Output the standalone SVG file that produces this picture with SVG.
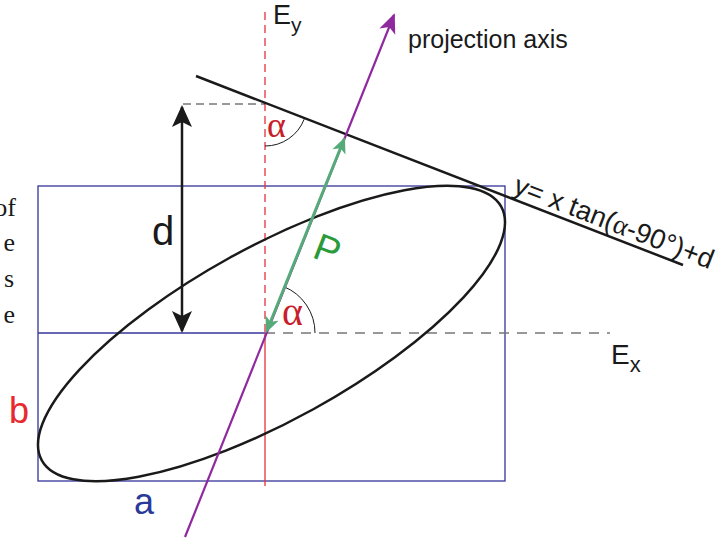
<svg xmlns="http://www.w3.org/2000/svg" width="725" height="543" viewBox="0 0 725 543">
<style>
.sans{font-family:"Liberation Sans",Arial,sans-serif}
.serif{font-family:"Liberation Serif","Times New Roman",serif}
.blk{stroke:#1a1a1a;fill:none}
.alpha{fill:#c8202a;font-family:"Liberation Serif","Times New Roman",serif}
</style>
<defs>
<marker id="ahBlack" viewBox="-24 -11 26 22" refX="-2" refY="0" markerWidth="26" markerHeight="22" markerUnits="userSpaceOnUse" orient="auto-start-reverse">
<path d="M0,0 L-22,-10 L-17,0 L-22,10 Z" fill="#1a1a1a"/>
</marker>
<marker id="ahGreen" viewBox="-18 -8 20 16" refX="-2" refY="0" markerWidth="20" markerHeight="16" markerUnits="userSpaceOnUse" orient="auto-start-reverse">
<path d="M0,0 L-16,-7 L-12,0 L-16,7 Z" fill="#55aa7a"/>
</marker>
<marker id="ahPurple" viewBox="-22 -9 24 18" refX="-2" refY="0" markerWidth="24" markerHeight="18" markerUnits="userSpaceOnUse" orient="auto">
<path d="M0,0 L-20,-8.5 L-15,0 L-20,8.5 Z" fill="#8e2a9e"/>
</marker>
</defs>

<g id="page-text" class="serif" font-size="26" fill="#1a1a1a" text-anchor="end">
<text x="16" y="216">of</text>
<text x="15" y="251">e</text>
<text x="14" y="287">s</text>
<text x="15" y="323">e</text>
</g>

<g id="box">
<rect x="38" y="186" width="467" height="295" fill="none" stroke="#34349a" stroke-width="1.3"/>
<line x1="38" y1="333" x2="265" y2="333" stroke="#34349a" stroke-width="1.3"/>
</g>

<g id="axes">
<line x1="265" y1="12" x2="265" y2="333" stroke="#e8303c" stroke-width="1.3" stroke-dasharray="8,5"/>
<line x1="265" y1="333" x2="265" y2="486" stroke="#e8303c" stroke-width="1.3"/>
<line x1="265" y1="333" x2="610" y2="333" stroke="#777" stroke-width="1.6" stroke-dasharray="10,8"/>
<line x1="183" y1="104" x2="265" y2="104" stroke="#333" stroke-width="1" stroke-dasharray="8,5"/>
</g>

<g id="ellipse">
<ellipse cx="271.5" cy="333.5" rx="262.4" ry="86.5" transform="rotate(-28.9 271.5 333.5)" class="blk" stroke-width="2.5"/>
</g>

<g id="tangent-line">
<line x1="196" y1="76" x2="683" y2="265" class="blk" stroke-width="2.5"/>
</g>

<g id="arcs" class="blk" stroke-width="1">
<path d="M265,146 A42,42 0 0 0 304.2,119.2"/>
<path d="M315,333 A50,50 0 0 0 283.7,286.6"/>
</g>

<g id="connectors">
<line x1="185" y1="537" x2="394" y2="15" stroke="#8e2a9e" stroke-width="2.2" marker-end="url(#ahPurple)"/>
<line x1="182" y1="107" x2="182" y2="331" stroke="#1a1a1a" stroke-width="2.5" marker-start="url(#ahBlack)" marker-end="url(#ahBlack)"/>
<line x1="344.2" y1="139" x2="266.8" y2="331" stroke="#55aa7a" stroke-width="3" marker-start="url(#ahGreen)" marker-end="url(#ahGreen)"/>
</g>

<g id="labels">
<text x="273" y="24" class="sans" font-size="27" fill="#1a1a1a">E<tspan font-size="21" dy="8">y</tspan></text>
<text x="611" y="364" class="sans" font-size="28" fill="#1a1a1a">E<tspan font-size="22" dy="8">x</tspan></text>
<text x="408" y="48" class="sans" font-size="25" fill="#1a1a1a">projection axis</text>
<text x="152" y="245" class="sans" font-size="40" fill="#1a1a1a">d</text>
<text x="9" y="423" class="sans" font-size="36" fill="#e8282e">b</text>
<text x="134" y="514" class="sans" font-size="36" fill="#2a3a9a">a</text>
<text x="311" y="257" class="sans" font-size="38" fill="#2a9a3a" transform="rotate(21 311 257)">P</text>
<text x="267" y="137" class="alpha" font-size="36">α</text>
<text x="282" y="325" class="alpha" font-size="40">α</text>
<text x="512" y="192.6" class="sans" font-size="27.5" fill="#1a1a1a" transform="rotate(21.2 512 192.6)">y= x tan(<tspan class="serif">α</tspan>-90°)+d</text>
</g>
</svg>
